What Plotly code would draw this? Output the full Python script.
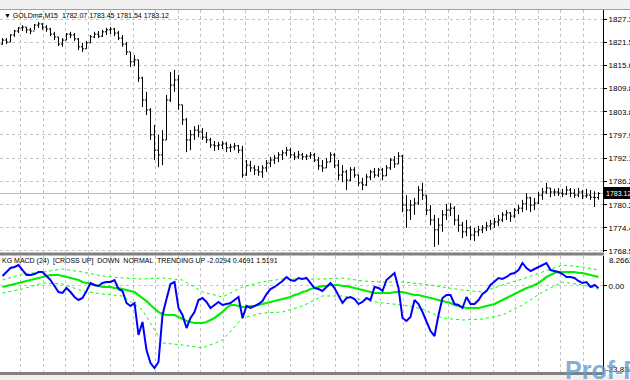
import plotly.graph_objects as go

# ---------------- data ----------------
bars = list(range(150))

opens = [1821.0, 1822.0, 1821.5, 1823.3, 1824.3, 1825.1, 1825.3, 1824.6, 1824.3, 1825.8,
1826.1, 1825.3, 1824.8, 1823.5, 1822.8, 1821.0, 1822.0, 1823.5, 1823.3, 1822.3,
1820.3, 1819.8, 1821.3, 1822.8, 1823.5, 1823.0, 1824.1, 1824.6, 1824.8, 1823.8,
1822.5, 1821.0, 1819.0, 1816.5, 1817.0, 1812.4, 1806.8, 1804.3, 1798.0, 1794.1,
1792.9, 1796.7, 1806.8, 1810.6, 1811.9, 1805.6, 1801.8, 1796.7, 1798.0, 1799.2,
1798.7, 1797.4, 1796.7, 1795.4, 1795.2, 1795.4, 1795.7, 1794.7, 1794.9, 1795.2,
1794.1, 1787.8, 1790.3, 1789.6, 1789.1, 1788.6, 1789.6, 1790.8, 1791.6, 1792.1,
1792.9, 1793.4, 1794.1, 1792.9, 1792.4, 1792.9, 1792.4, 1792.6, 1792.9, 1791.6,
1790.1, 1789.6, 1791.1, 1792.9, 1790.3, 1787.8, 1788.6, 1786.5, 1789.1, 1787.8,
1785.8, 1785.3, 1787.3, 1788.6, 1787.8, 1789.1, 1787.6, 1789.6, 1791.6, 1790.6,
1792.6, 1780.2, 1778.9, 1780.2, 1780.7, 1784.0, 1782.7, 1778.9, 1776.4, 1773.9,
1775.1, 1777.7, 1778.9, 1779.4, 1776.4, 1775.1, 1773.4, 1774.4, 1772.6, 1773.4,
1773.9, 1774.4, 1774.9, 1775.4, 1775.9, 1776.4, 1777.7, 1778.2, 1777.4, 1778.9,
1779.4, 1780.5, 1782.0, 1780.2, 1780.7, 1782.7, 1783.5, 1784.5, 1783.5, 1783.5,
1783.2, 1783.0, 1784.0, 1783.2, 1782.7, 1783.5, 1782.5, 1782.7, 1782.2, 1782.07]

highs = [1822.5, 1822.5, 1823.5, 1824.6, 1825.3, 1825.8, 1825.3, 1825.1, 1826.1, 1826.6,
1826.3, 1825.8, 1825.1, 1824.1, 1822.8, 1822.5, 1823.8, 1824.1, 1823.8, 1822.5,
1821.3, 1821.8, 1823.3, 1824.1, 1824.3, 1824.6, 1825.1, 1825.3, 1825.1, 1824.3,
1823.3, 1821.5, 1819.0, 1818.2, 1817.0, 1812.7, 1808.9, 1804.8, 1800.5, 1798.0,
1799.2, 1808.1, 1813.9, 1814.4, 1813.2, 1805.6, 1802.3, 1799.2, 1800.2, 1800.5,
1799.7, 1798.7, 1797.2, 1796.4, 1796.2, 1796.4, 1796.2, 1795.7, 1795.9, 1795.4,
1795.2, 1791.6, 1791.4, 1790.3, 1790.1, 1790.3, 1791.6, 1792.4, 1792.9, 1793.6,
1794.1, 1794.9, 1794.7, 1793.6, 1793.9, 1793.4, 1793.1, 1793.6, 1793.4, 1792.4,
1791.6, 1792.1, 1793.6, 1793.4, 1791.6, 1790.3, 1789.1, 1789.8, 1789.8, 1787.8,
1787.1, 1788.1, 1789.1, 1789.6, 1789.6, 1789.6, 1790.3, 1792.1, 1792.6, 1793.6,
1792.9, 1782.7, 1781.5, 1782.0, 1785.0, 1785.8, 1782.7, 1780.2, 1777.7, 1776.9,
1778.9, 1780.5, 1780.7, 1779.9, 1777.7, 1775.9, 1776.4, 1774.9, 1774.4, 1774.9,
1775.1, 1775.9, 1776.4, 1776.9, 1777.7, 1778.4, 1778.9, 1778.4, 1779.4, 1780.2,
1781.5, 1783.2, 1782.3, 1782.0, 1783.5, 1784.5, 1785.8, 1784.5, 1784.3, 1784.5,
1784.3, 1785.0, 1784.5, 1784.3, 1784.5, 1784.0, 1784.3, 1784.0, 1783.7, 1783.45]

lows = [1820.8, 1821.0, 1821.5, 1822.8, 1823.8, 1824.3, 1823.8, 1823.5, 1824.6, 1825.1,
1824.6, 1824.1, 1823.0, 1822.0, 1820.5, 1820.3, 1822.0, 1822.5, 1821.8, 1819.5,
1819.0, 1819.8, 1821.3, 1822.5, 1822.5, 1822.8, 1823.3, 1823.5, 1823.0, 1822.0,
1820.3, 1818.2, 1815.2, 1815.4, 1811.4, 1805.0, 1803.0, 1796.7, 1791.6, 1789.8,
1790.3, 1796.7, 1806.3, 1808.9, 1804.3, 1800.5, 1793.6, 1794.1, 1796.7, 1797.4,
1796.7, 1795.9, 1794.7, 1793.9, 1794.1, 1794.4, 1793.6, 1793.6, 1794.1, 1793.4,
1787.1, 1787.6, 1788.6, 1787.8, 1787.6, 1787.1, 1788.6, 1789.8, 1790.6, 1791.1,
1791.6, 1792.6, 1792.1, 1791.6, 1791.9, 1791.6, 1791.6, 1791.9, 1791.1, 1789.1,
1788.6, 1789.6, 1791.1, 1789.6, 1786.5, 1786.0, 1784.0, 1786.3, 1787.1, 1785.0,
1784.0, 1785.0, 1786.5, 1787.1, 1787.3, 1786.5, 1787.6, 1789.1, 1789.6, 1790.6,
1778.4, 1774.4, 1776.4, 1777.7, 1780.2, 1781.5, 1777.7, 1775.1, 1769.6, 1770.1,
1773.4, 1776.4, 1777.4, 1775.1, 1773.4, 1771.8, 1772.3, 1771.3, 1771.1, 1772.3,
1773.1, 1773.6, 1773.9, 1774.4, 1774.9, 1775.9, 1776.4, 1775.9, 1776.9, 1777.9,
1778.4, 1778.9, 1778.4, 1778.9, 1780.5, 1781.5, 1783.0, 1782.2, 1782.5, 1782.5,
1782.2, 1782.7, 1782.2, 1782.0, 1782.2, 1781.7, 1782.0, 1781.5, 1779.7, 1781.54]

closes = [1822.0, 1821.5, 1823.3, 1824.3, 1825.1, 1825.3, 1824.6, 1824.3, 1825.8, 1826.1,
1825.3, 1824.8, 1823.5, 1822.8, 1821.0, 1822.0, 1823.5, 1823.3, 1822.3, 1820.3,
1819.8, 1821.3, 1822.8, 1823.5, 1823.0, 1824.1, 1824.6, 1824.8, 1823.8, 1822.5,
1821.0, 1819.0, 1816.5, 1817.0, 1812.4, 1806.8, 1804.3, 1798.0, 1794.1, 1792.9,
1796.7, 1806.8, 1810.6, 1811.9, 1805.6, 1801.8, 1796.7, 1798.0, 1799.2, 1798.7,
1797.4, 1796.7, 1795.4, 1795.2, 1795.4, 1795.7, 1794.7, 1794.9, 1795.2, 1794.1,
1787.8, 1790.3, 1789.6, 1789.1, 1788.6, 1789.6, 1790.8, 1791.6, 1792.1, 1792.9,
1793.4, 1794.1, 1792.9, 1792.4, 1792.9, 1792.4, 1792.6, 1792.9, 1791.6, 1790.1,
1789.6, 1791.1, 1792.9, 1790.3, 1787.8, 1788.6, 1786.5, 1789.1, 1787.8, 1785.8,
1785.3, 1787.3, 1788.6, 1787.8, 1789.1, 1787.6, 1789.6, 1791.6, 1790.6, 1792.6,
1780.2, 1778.9, 1780.2, 1780.7, 1784.0, 1782.7, 1778.9, 1776.4, 1773.9, 1775.1,
1777.7, 1778.9, 1779.4, 1776.4, 1775.1, 1773.4, 1774.4, 1772.6, 1773.4, 1773.9,
1774.4, 1774.9, 1775.4, 1775.9, 1776.4, 1777.7, 1778.2, 1777.4, 1778.9, 1779.4,
1780.5, 1782.0, 1780.2, 1780.7, 1782.7, 1783.5, 1784.5, 1783.5, 1783.5, 1783.2,
1783.0, 1784.0, 1783.2, 1782.7, 1783.5, 1782.5, 1782.7, 1782.2, 1782.07, 1783.12]

macd_main = [2.73, 3.84, 4.94, 5.22, 5.77, 4.39, 3.01, 3.01, 3.28, 3.84,
3.84, 2.73, 1.62, -0.04, -1.70, -1.97, -0.59, -1.70, -3.08, -3.91,
-3.36, -1.42, 0.79, 0.24, -0.04, 0.79, 1.07, 1.07, 1.62, -0.87,
-1.42, -4.74, -5.57, -4.74, -13.59, -10.00, -17.75, -21.34, -22.73, -21.07,
-8.06, -3.63, 0.52, 1.07, -6.12, -8.06, -11.66, -8.89, -7.23, -3.91,
-3.36, -4.46, -6.12, -5.29, -4.46, -5.29, -5.02, -4.74, -3.91, -3.08,
-8.89, -5.57, -6.12, -5.57, -5.02, -4.19, -2.25, -0.87, -0.31, 0.52,
1.35, 2.45, 1.62, 1.35, 2.18, 1.90, 2.18, 0.79, -0.59, -0.87,
-1.42, -0.31, 0.79, -0.59, -2.80, -4.74, -3.36, -3.08, -3.63, -5.02,
-4.46, -3.36, -3.91, -0.31, -0.59, -1.42, 1.62, 2.73, 3.56, -0.59,
-8.89, -9.72, -8.61, -3.91, -5.02, -7.23, -10.00, -12.49, -13.87, -8.06,
-3.36, -2.53, -2.53, -5.02, -5.29, -6.12, -3.08, -5.02, -5.02, -3.91,
-2.25, -1.42, 0.24, 1.35, 2.18, 1.90, 2.45, 3.28, 3.56, 4.39,
6.33, 4.94, 4.11, 4.67, 5.22, 5.77, 6.33, 4.39, 4.11, 3.84,
3.28, 2.45, 2.45, 2.18, 1.35, 0.79, 1.07, -0.31, 0.24, -0.59]

macd_signal = [-0.31, -0.04, 0.24, 0.52, 0.79, 1.07, 1.35, 1.62, 1.90, 2.18,
2.45, 2.73, 3.01, 3.01, 3.01, 2.73, 2.45, 2.18, 1.90, 1.62,
1.07, 0.79, 0.52, 0.24, -0.04, -0.31, -0.31, -0.31, -0.59, -0.59,
-0.87, -1.14, -1.42, -1.70, -2.53, -3.36, -4.19, -5.29, -6.40, -7.23,
-7.78, -8.06, -8.06, -8.06, -8.61, -9.17, -9.72, -10.00, -10.27, -10.27,
-10.27, -10.00, -9.44, -8.89, -8.06, -7.23, -6.12, -5.29, -5.29, -5.57,
-5.85, -5.85, -5.57, -5.57, -5.29, -5.02, -4.74, -4.46, -4.19, -3.91,
-3.63, -3.36, -3.08, -2.53, -2.25, -1.70, -1.42, -0.87, -0.59, -0.31,
-0.04, -0.04, 0.24, 0.24, 0.24, -0.04, -0.04, -0.31, -0.59, -0.87,
-1.14, -1.42, -1.70, -1.97, -1.97, -1.97, -1.97, -1.97, -1.70, -1.70,
-1.70, -1.97, -2.25, -2.53, -2.53, -2.80, -3.08, -3.36, -3.63, -3.91,
-4.19, -4.46, -4.74, -5.29, -5.57, -5.85, -6.12, -6.12, -6.12, -6.12,
-5.85, -5.57, -5.29, -5.02, -4.46, -3.91, -3.36, -2.80, -2.25, -1.70,
-1.14, -0.59, -0.31, 0.24, 0.79, 1.62, 2.45, 3.01, 3.56, 3.84,
3.84, 3.84, 3.84, 3.84, 3.56, 3.56, 3.28, 3.01, 2.73, 2.45]

band_bars = [0, 5, 10, 15, 20, 25, 30, 35, 40, 45, 50, 55, 60, 65, 70, 75, 80, 85, 90, 95,
             100, 105, 110, 115, 120, 125, 130, 135, 140, 145, 149]
band_upper = [1.62, 3.28, 3.84, 4.67, 3.84, 2.73, 2.18, 1.90, 2.18, 1.62, -1.70, -3.08, -0.31,
              1.07, 1.90, 1.90, 1.90, 2.18, 1.35, 1.07, 1.07, 0.52, -0.31, -1.14, -1.70, 0.24,
              1.90, 3.84, 5.77, 5.22, 4.39]
band_lower = [-1.97, -0.87, 0.79, 0.52, -1.42, -2.25, -2.80, -6.68, -15.81, -16.36, -17.19,
              -14.98, -8.89, -7.51, -7.23, -5.57, -2.80, -2.80, -3.91, -4.74, -5.29, -6.40,
              -8.89, -9.44, -9.17, -8.06, -5.29, -1.70, 1.07, 0.24, -0.87]

price_ticks = [1827.35, 1821.50, 1815.65, 1809.80, 1803.80, 1797.95, 1792.10, 1786.25,
               1780.25, 1774.40, 1768.55]
price_tick_text = ["1827.35", "1821.50", "1815.65", "1809.80", "1803.80", "1797.95",
                   "1792.10", "1786.25", "1780.25", "1774.40", "1768.55"]
last_price = 1783.12
macd_max = 8.2662
macd_min = -23.8315

main_title = "\u25bc GOLDm#,M15\u00a0 1782.07 1783.45 1781.54 1783.12"
macd_title = ("KG MACD (24)\u00a0 [CROSS UP]\u00a0 DOWN\u00a0 NORMAL\u00a0 TRENDING UP "
              "-2.0294 0.4691 1.5191")

# ---------------- layout helpers ----------------
W, H = 630, 380
PLOT_W = 603


def py(y):
    return 1 - y / H


def px(x):
    return x / PLOT_W


X0 = -2.5 / 4
X1 = (PLOT_W - 2.5) / 4
grid_x = [(20.5 + 22.5 * k - 2.5) / 4 for k in range(26)]
FONT = "Liberation Sans"
GRID = "#c4c4c4"

fig = go.Figure()

fig.add_trace(go.Ohlc(
    x=bars, open=opens, high=highs, low=lows, close=closes,
    increasing=dict(line=dict(color="#000000", width=1)),
    decreasing=dict(line=dict(color="#000000", width=1)),
    tickwidth=0.4, xaxis="x", yaxis="y", hoverinfo="skip"))

fig.add_trace(go.Scatter(x=band_bars, y=band_upper, mode="lines",
                         line=dict(color="#00ff00", width=1, dash="dot"),
                         xaxis="x2", yaxis="y2", hoverinfo="skip"))
fig.add_trace(go.Scatter(x=band_bars, y=band_lower, mode="lines",
                         line=dict(color="#00ff00", width=1, dash="dot"),
                         xaxis="x2", yaxis="y2", hoverinfo="skip"))
fig.add_trace(go.Scatter(x=bars, y=macd_signal, mode="lines",
                         line=dict(color="#00ee00", width=2.2),
                         xaxis="x2", yaxis="y2", hoverinfo="skip"))
fig.add_trace(go.Scatter(x=bars, y=macd_main, mode="lines",
                         line=dict(color="#0000ff", width=2),
                         xaxis="x2", yaxis="y2", hoverinfo="skip"))

xcommon = dict(range=[X0, X1], showticklabels=False, ticks="",
               tickvals=grid_x, showgrid=True, gridcolor=GRID, griddash="3px,3px",
               gridwidth=1, zeroline=False, showline=False, fixedrange=True)

fig.update_layout(
    width=W, height=H,
    margin=dict(l=0, r=W - PLOT_W, t=0, b=0, autoexpand=False),
    paper_bgcolor="#ffffff", plot_bgcolor="#ffffff",
    showlegend=False,
    xaxis=dict(domain=[0, 1], anchor="y", rangeslider=dict(visible=False), **xcommon),
    xaxis2=dict(domain=[0, 1], anchor="y2", **xcommon),
    yaxis=dict(domain=[py(252), py(10)], range=[1768.29, 1829.63], side="right",
               tickvals=price_ticks, ticktext=price_tick_text,
               ticks="outside", ticklen=3, tickcolor="#000000",
               showline=True, linecolor="#000000", linewidth=1,
               showgrid=True, gridcolor=GRID, griddash="3px,3px", zeroline=False,
               tickfont=dict(family=FONT, size=8, color="#000000"), fixedrange=True),
    yaxis2=dict(domain=[py(372), py(256)], range=[macd_min, macd_max], side="right",
                tickvals=[0], ticktext=["0.00"],
                ticks="outside", ticklen=3, tickcolor="#000000",
                showline=True, linecolor="#000000", linewidth=1,
                showgrid=True, gridcolor=GRID, griddash="3px,3px", zeroline=False,
                tickfont=dict(family=FONT, size=8, color="#000000"), fixedrange=True),
)

shapes = [
    # window strip on top
    dict(type="rect", xref="paper", yref="paper", x0=0, x1=px(W), y0=py(9), y1=py(0),
         fillcolor="#f0f0f0", line=dict(width=0), layer="above"),
    dict(type="line", xref="paper", yref="paper", x0=0, x1=px(W), y0=py(9.5), y1=py(9.5),
         line=dict(color="#a0a0a0", width=1)),
    # separator between panels
    dict(type="rect", xref="paper", yref="paper", x0=0, x1=px(PLOT_W + 1), y0=py(255.5), y1=py(252.5),
         fillcolor="#808080", line=dict(width=0), layer="above"),
    # bottom frame
    dict(type="rect", xref="paper", yref="paper", x0=0, x1=px(PLOT_W + 1), y0=py(375), y1=py(372),
         fillcolor="#808080", line=dict(width=0), layer="above"),
    dict(type="rect", xref="paper", yref="paper", x0=0, x1=px(W), y0=py(380), y1=py(375),
         fillcolor="#f0f0f0", line=dict(width=0), layer="above"),
    # last price line
    dict(type="line", xref="paper", yref="y", x0=0, x1=1, y0=last_price, y1=last_price,
         line=dict(color="#c0c0c0", width=1), layer="below"),
    # last price box
    dict(type="rect", xref="paper", yref="paper", x0=px(604), x1=px(W), y0=py(199), y1=py(187),
         fillcolor="#000000", line=dict(width=0), layer="above"),
]
fig.update_layout(shapes=shapes)

annotations = [
    dict(text=main_title, xref="paper", yref="paper", x=px(2), y=py(15.5),
         xanchor="left", yanchor="middle", showarrow=False,
         font=dict(family=FONT, size=7, color="#000000")),
    dict(text=macd_title, xref="paper", yref="paper", x=px(0), y=py(261),
         xanchor="left", yanchor="middle", showarrow=False,
         font=dict(family=FONT, size=7, color="#000000")),
    dict(text="1783.12", xref="paper", yref="paper", x=px(604), y=py(193),
         xanchor="left", yanchor="middle", showarrow=False,
         font=dict(family=FONT, size=7, color="#ffffff")),
    dict(text="8.2662", xref="paper", yref="paper", x=px(607), y=py(260),
         xanchor="left", yanchor="middle", showarrow=False,
         font=dict(family=FONT, size=8, color="#000000")),
    dict(text="-23.8315", xref="paper", yref="paper", x=px(604), y=py(369),
         xanchor="left", yanchor="middle", showarrow=False,
         font=dict(family=FONT, size=8, color="#000000")),
    dict(text="<b>Prof-F</b>", xref="paper", yref="paper", x=px(563), y=py(386),
         xanchor="left", yanchor="bottom", showarrow=False,
         font=dict(family=FONT, size=25, color="rgba(100,155,205,0.8)")),
]
fig.update_layout(annotations=annotations)

fig.write_html("out.html",
               config={"displayModeBar": False, "staticPlot": True},
               post_script="document.body.style.margin='0';document.body.style.overflow='hidden';")
